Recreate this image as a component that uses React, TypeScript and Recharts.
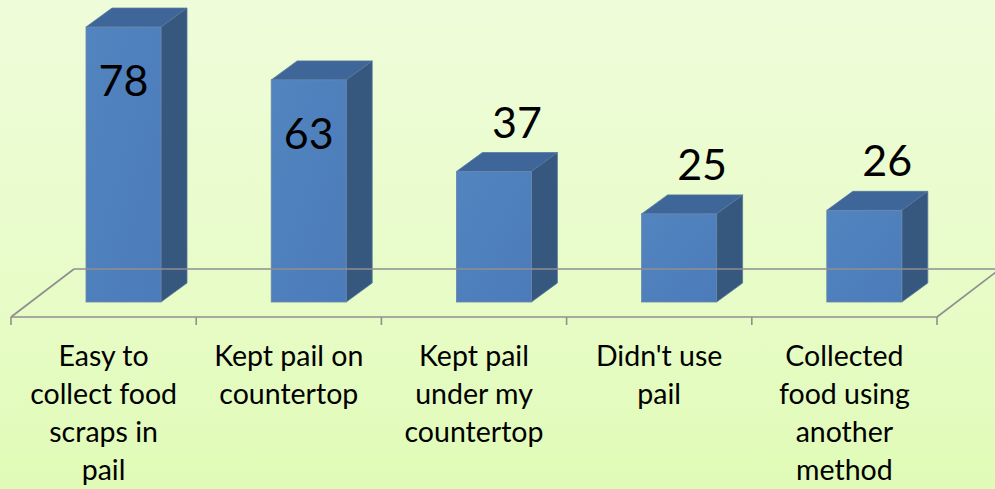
import React from 'react';
import { BarChart, Bar, XAxis, YAxis, LabelList } from 'recharts';

const categories = [
  'Easy to collect food scraps in pail',
  'Kept pail on countertop',
  'Kept pail under my countertop',
  "Didn't use pail",
  'Collected food using another method',
];
const tickLines = [
  ['Easy to', 'collect food', 'scraps in', 'pail'],
  ['Kept pail on', 'countertop'],
  ['Kept pail', 'under my', 'countertop'],
  ["Didn't use", 'pail'],
  ['Collected', 'food using', 'another', 'method'],
];
const values = [78, 63, 37, 25, 26];
const yDomain = [0, 80];

const data = categories.map((name, i) => ({ name, value: values[i], idx: i }));

const W = 995;
const H = 489;
const M = { top: 35, right: 58, left: 11, bottom: 12 };
const XH = 160;
const PLOT_W = W - M.left - M.right;
const BAND = PLOT_W / categories.length;
const DX = 20;
const DY = 15;
const DEPTH_X = 26;
const DEPTH_Y = 19;
const FLOOR_X = 63;
const FLOOR_Y = 48;
const GRID = '#8f8f8f';
const FONT = 'Lato, "Open Sans", sans-serif';

const Bar3D = (props: any) => {
  const { x, y, width, height } = props;
  if (x == null || y == null) return null;
  const fx = x + DX;
  const fy = y - DY;
  const fb = y + height - DY;
  const r = fx + width;
  return (
    <g>
      <polygon
        points={`${fx},${fy} ${fx + DEPTH_X},${fy - DEPTH_Y} ${r + DEPTH_X},${fy - DEPTH_Y} ${r},${fy}`}
        fill="#3f6698"
        stroke="#56779f"
        strokeWidth={0.8}
      />
      <polygon
        points={`${r},${fy} ${r + DEPTH_X},${fy - DEPTH_Y} ${r + DEPTH_X},${fb - DEPTH_Y} ${r},${fb}`}
        fill="#36587f"
        stroke="#56779f"
        strokeWidth={0.8}
      />
      <rect x={fx} y={fy} width={width} height={fb - fy} fill="url(#frontGrad)" stroke="#6a86ad" strokeWidth={0.8} />
    </g>
  );
};

const ValueLabel = (props: any) => {
  const vb = props.viewBox || {};
  const x = props.x ?? vb.x;
  const y = props.y ?? vb.y;
  const width = props.width ?? vb.width;
  const { value } = props;
  if (x == null || y == null) return null;
  const fx = x + DX;
  const fy = y - DY;
  const inside = fy < 120;
  const cx = inside ? fx + width / 2 : fx + width / 2 + 23;
  const by = inside ? fy + 69 : fy - 34;
  return (
    <text x={cx} y={by} textAnchor="middle" fontSize={43} fontFamily={FONT} fill="#000">
      {value}
    </text>
  );
};

const CatTick = (props: any) => {
  const { x, y, index } = props;
  const lines = tickLines[index] || [];
  const left = x - BAND / 2;
  const right = x + BAND / 2;
  return (
    <g>
      {index === 0 && (
        <g stroke={GRID} strokeWidth={1.6} fill="none">
          <line x1={left} y1={y} x2={left + FLOOR_X} y2={y - FLOOR_Y} />
          <line x1={left + FLOOR_X} y1={y - FLOOR_Y} x2={left + PLOT_W + FLOOR_X} y2={y - FLOOR_Y} />
          <line x1={left + PLOT_W} y1={y} x2={left + PLOT_W + FLOOR_X} y2={y - FLOOR_Y} />
        </g>
      )}
      <line x1={left} y1={y} x2={left} y2={y + 8} stroke={GRID} strokeWidth={1.6} />
      {index === categories.length - 1 && (
        <line x1={right} y1={y} x2={right} y2={y + 8} stroke={GRID} strokeWidth={1.6} />
      )}
      <text textAnchor="middle" fontSize={28.5} fontFamily={FONT} fill="#000">
        {lines.map((l: string, i: number) => (
          <tspan key={i} x={x} y={y + 49 + i * 38}>
            {l}
          </tspan>
        ))}
      </text>
    </g>
  );
};

export default function App() {
  return (
    <div
      style={{
        position: 'absolute',
        left: 0,
        top: 0,
        width: W,
        height: H,
        overflow: 'hidden',
        background: 'linear-gradient(to bottom, #effcda 0%, #e9fccb 50%, #e0fbb7 100%)',
      }}
    >
      <BarChart width={W} height={H} data={data} margin={M} barSize={75}>
        <defs>
          <linearGradient id="frontGrad" x1="0" y1="0" x2="1" y2="1">
            <stop offset="0%" stopColor="#5284c0" />
            <stop offset="100%" stopColor="#4b7cb9" />
          </linearGradient>
        </defs>
        <YAxis hide domain={yDomain} type="number" />
        <XAxis
          dataKey="name"
          height={XH}
          interval={0}
          tickLine={false}
          tickSize={0}
          tickMargin={0}
          axisLine={{ stroke: GRID, strokeWidth: 1.6 }}
          tick={<CatTick />}
        />
        <Bar dataKey="value" shape={<Bar3D />} isAnimationActive={false}>
          <LabelList dataKey="value" content={<ValueLabel />} />
        </Bar>
      </BarChart>
    </div>
  );
}
